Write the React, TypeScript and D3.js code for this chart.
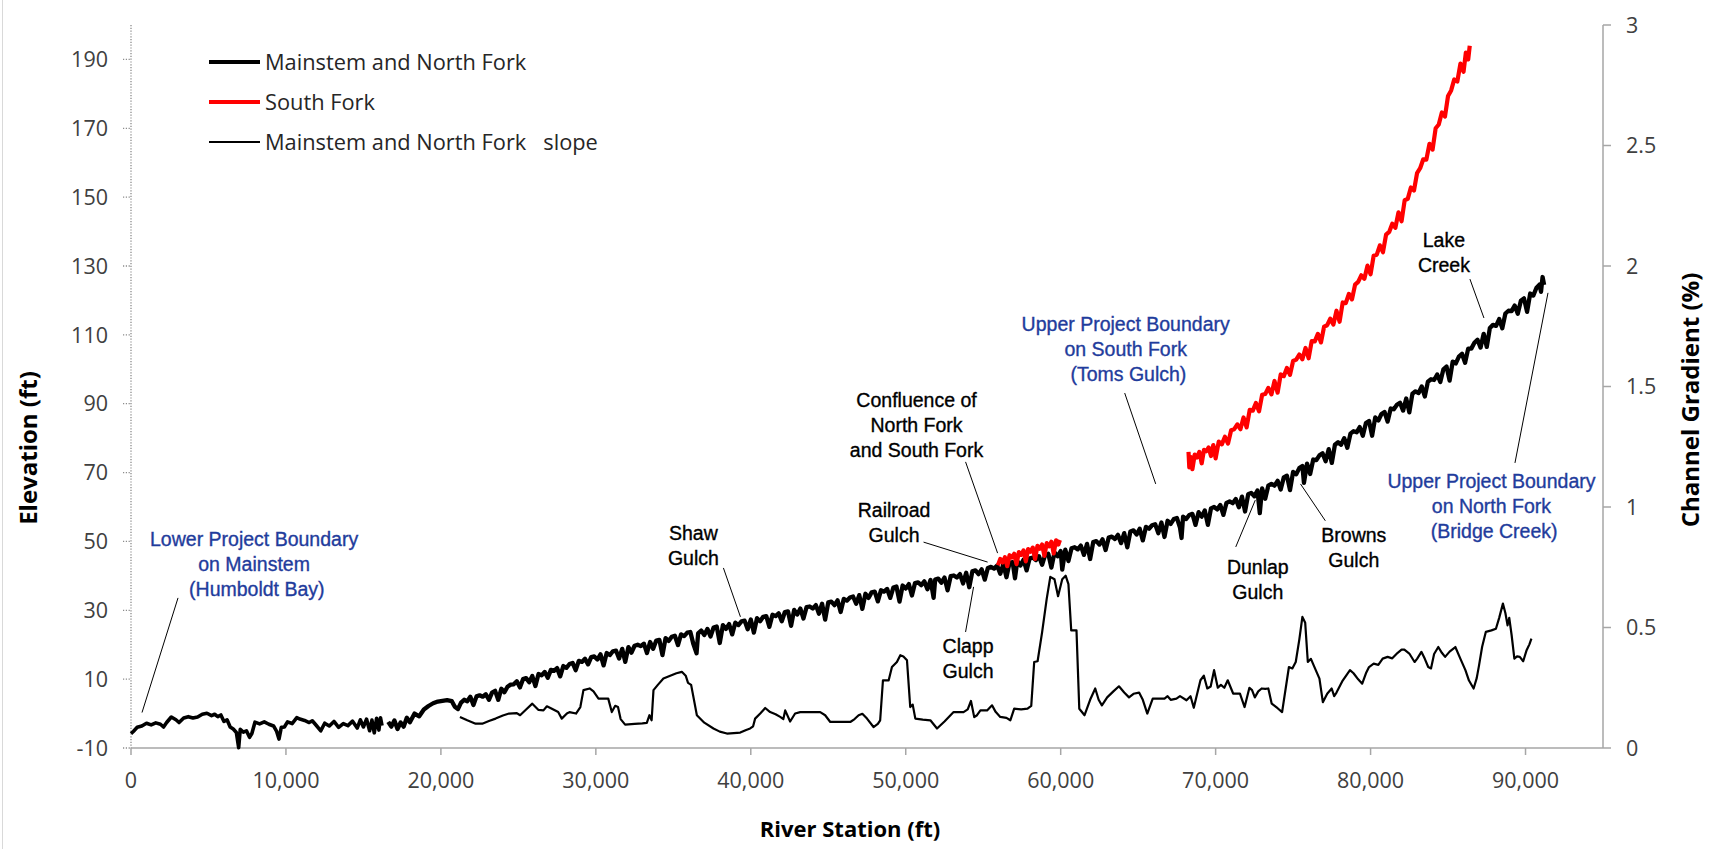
import React, { useEffect } from "react";
import * as d3 from "d3";

// ---------------- DATA ----------------
const X_TICKS = [0, 10000, 20000, 30000, 40000, 50000, 60000, 70000, 80000, 90000];
const ELEV_TICKS = [-10, 10, 30, 50, 70, 90, 110, 130, 150, 170, 190];
const GRAD_TICKS = [0, 0.5, 1, 1.5, 2, 2.5, 3];
const GRAD_LABELS = ["0", "0.5", "1", "1.5", "2", "2.5", "3"];

const LEGEND_LABELS = ["Mainstem and North Fork", "South Fork", "Mainstem and North Fork   slope"];

// Mainstem and North Fork elevation (station ft, elevation ft), before the data gap
const MAIN_A: [number, number][] = [
  [0,-5.8],[150,-5.2],[400,-4.0],[700,-3.6],[1000,-2.8],[1300,-3.3],[1600,-2.7],[1900,-3.1],[2100,-3.9],[2300,-2.6],
  [2600,-1.0],[2900,-1.8],[3100,-2.6],[3400,-1.3],[3700,-0.9],[4000,-1.3],[4300,-1.0],[4600,-0.2],[4900,0.1],[5200,-0.6],
  [5400,-0.2],[5600,-0.9],[5800,-0.4],[6000,-2.3],[6200,-1.8],[6400,-3.9],[6600,-4.5],[6800,-5.5],[6950,-9.9],[7050,-4.6],
  [7250,-5.4],[7450,-5.0],[7650,-6.9],[7800,-5.8],[8000,-2.5],[8300,-3.0],[8600,-2.4],[8900,-3.1],[9200,-3.6],[9400,-5.2],
  [9550,-7.4],[9700,-4.0],[9900,-3.9],[10100,-2.4],[10400,-2.9],[10700,-1.2],[10900,-1.6],[11200,-2.0],[11500,-2.6],[11700,-2.1],
  [11950,-3.4],[12250,-5.0],[12500,-2.8],[12800,-3.6],[13100,-2.3],[13400,-4.0],[13700,-2.9],[14000,-3.5],[14300,-2.2],[14600,-4.2],
  [14800,-1.8],[15000,-3.9],[15200,-1.6],[15400,-5.0],[15550,-1.9],[15700,-5.6],[15850,-1.4],[16000,-4.8],[16100,-1.2],[16200,-3.5]
];

// Mainstem and North Fork elevation after the data gap
const MAIN_B: [number, number][] = [
  [16600,-2.4],[16800,-3.8],[17000,-2.0],[17200,-4.5],[17400,-2.6],[17600,-3.8],[17800,-1.2],[18000,-2.5],[18300,0.0],[18600,-0.8],
  [18900,1.2],[19200,2.2],[19500,3.0],[19800,3.5],[20100,3.7],[20400,3.9],[20700,3.6],[20900,2.0],[21100,1.3],[21300,3.2],
  [21500,4.0],[21700,3.6],[21900,4.9],[22100,2.5],[22300,5.0],[22500,5.3],[22700,4.9],[22900,5.6],[23100,4.0],[23300,6.1],
  [23500,6.6],[23700,4.0],[23900,7.2],[24100,6.2],[24300,7.8],[24500,8.4],[24700,8.5],[24900,9.4],[25100,7.6],[25300,10.0],
  [25500,10.3],[25700,9.1],[25900,10.9],[26100,8.0],[26300,11.5],[26500,11.1],[26700,12.1],[26900,10.4],[27100,12.7],[27300,12.4],
  [27500,13.2],[27700,10.8],[27900,13.8],[28100,13.3],[28300,14.4],[28500,14.7],[28700,12.6],[28900,15.3],[29100,15.0],[29300,15.9],
  [29500,14.3],[29700,16.4],[29900,16.6],[30100,15.7],[30300,17.2],[30500,14.0],[30700,17.6],[30900,17.0],[31100,18.1],[31300,18.3],
  [31500,16.0],[31700,18.8],[31900,15.0],[32100,19.3],[32300,17.7],[32500,19.7],[32700,20.0],[32900,19.6],[33100,20.3],[33300,17.6],
  [33500,20.8],[33700,18.8],[33900,21.2],[34100,21.4],[34300,17.0],[34500,21.9],[34700,21.1],[34900,22.3],[35100,22.6],[35300,19.9],
  [35500,23.0],[35700,22.5],[35900,23.5],[36100,23.7],[36300,20.1],[36500,17.5],[36600,23.3],[36800,24.1],[37000,22.8],[37200,24.6],
  [37400,22.4],[37600,25.0],[37800,25.3],[38000,20.5],[38200,25.7],[38400,24.6],[38600,26.0],[38800,23.0],[39000,26.4],[39200,25.7],
  [39400,26.8],[39600,27.0],[39800,24.5],[40000,27.3],[40200,23.5],[40400,27.7],[40600,26.8],[40800,28.1],[41000,28.3],[41200,25.2],
  [41400,28.7],[41600,28.3],[41800,29.1],[42000,26.8],[42200,29.5],[42400,29.7],[42600,25.5],[42800,30.1],[43000,28.8],[43200,30.5],
  [43400,27.6],[43600,30.9],[43800,31.1],[44000,30.5],[44200,31.5],[44400,29.0],[44600,31.9],[44800,27.3],[45000,32.3],[45200,32.5],
  [45400,31.5],[45600,32.9],[45800,29.5],[46000,33.3],[46200,32.8],[46400,33.7],[46600,34.0],[46800,31.9],[47000,34.4],[47200,30.4],
  [47400,34.8],[47600,33.6],[47800,35.2],[48000,35.4],[48200,32.6],[48400,35.8],[48600,35.4],[48800,36.2],[49000,33.6],[49200,36.6],
  [49400,36.9],[49600,32.5],[49800,37.2],[50000,36.3],[50200,37.6],[50400,34.3],[50600,37.9],[50800,38.1],[51000,37.3],[51200,38.4],
  [51400,36.1],[51600,38.8],[51800,33.6],[51900,38.9],[52100,39.2],[52300,38.0],[52500,39.5],[52700,35.8],[52900,39.9],[53100,40.1],
  [53300,39.5],[53500,40.5],[53700,37.8],[53900,40.9],[54100,36.7],[54300,41.3],[54500,41.6],[54700,40.5],[54900,41.9],[55100,38.9],
  [55300,42.3],[55500,42.6],[55700,42.1],[55900,43.0],[56100,40.6],[56300,43.4],[56500,39.6],[56700,43.8],[56900,44.0],[57050,39.3],
  [57200,44.3],[57400,43.0],[57600,44.7],[57800,41.6],[58000,45.1],[58200,45.3],[58400,44.6],[58600,45.7],[58800,43.2],[59000,46.1],
  [59200,46.4],[59400,42.4],[59600,46.8],[59800,45.7],[60000,47.2],[60100,41.8],[60300,47.6],[60500,44.3],[60700,48.0],[60900,48.3],
  [61100,47.7],[61300,48.8],[61500,46.1],[61700,49.3],[61900,44.9],[62100,49.8],[62300,50.1],[62500,49.1],[62700,50.6],[62900,47.5],
  [63100,51.1],[63300,51.4],[63500,50.7],[63700,51.9],[63900,49.5],[64100,52.4],[64300,48.3],[64500,52.9],[64700,53.2],[64900,52.0],
  [65100,53.7],[65300,50.3],[65500,54.2],[65700,53.7],[65900,54.7],[66100,55.0],[66300,52.4],[66500,55.5],[66700,51.3],[66900,56.0],
  [67100,55.1],[67300,56.5],[67500,56.8],[67700,54.0],[67800,51.0],[67900,57.2],[68100,56.5],[68300,57.7],[68500,58.0],[68700,54.8],
  [68900,58.5],[69100,57.2],[69300,59.0],[69500,54.8],[69700,59.6],[69900,60.0],[70100,59.3],[70300,60.6],[70500,57.7],[70700,61.2],
  [70900,61.6],[71100,61.1],[71300,62.3],[71500,59.9],[71700,63.0],[71900,58.7],[72100,63.7],[72300,64.1],[72500,63.1],[72700,64.8],
  [72850,58.2],[73000,65.4],[73200,62.4],[73400,66.2],[73600,66.7],[73800,66.2],[74000,67.6],[74200,65.1],[74400,68.6],[74600,69.1],
  [74800,64.9],[75000,70.2],[75200,69.5],[75400,71.3],[75600,71.9],[75700,67.0],[75900,72.6],[76100,69.6],[76300,73.8],[76500,73.6],
  [76700,75.0],[76900,75.6],[77100,73.3],[77300,76.8],[77500,72.8],[77700,78.1],[77900,78.8],[78100,78.1],[78300,80.0],[78500,77.2],
  [78700,81.3],[78900,82.0],[79100,81.7],[79300,83.2],[79500,80.7],[79700,84.4],[79900,85.0],[80100,80.7],[80300,86.0],[80500,85.1],
  [80700,87.0],[80900,87.6],[81100,84.8],[81300,88.6],[81500,88.4],[81700,89.7],[81900,90.3],[82100,88.0],[82300,91.5],[82500,87.5],
  [82700,92.9],[82900,93.6],[83100,93.1],[83300,95.0],[83500,92.1],[83700,96.4],[83900,97.1],[84100,96.9],[84300,98.5],[84500,96.3],
  [84700,100.0],[84900,100.8],[85100,96.7],[85300,102.2],[85500,101.7],[85700,103.7],[85900,104.5],[86100,101.9],[86300,106.0],[86500,106.0],
  [86700,107.7],[86900,108.6],[87100,106.3],[87300,110.3],[87500,106.5],[87700,112.0],[87900,112.9],[88100,112.6],[88300,114.6],[88500,111.9],
  [88700,116.2],[88900,117.0],[89100,116.9],[89300,118.5],[89500,116.1],[89700,119.9],[89900,120.6],[90100,116.7],[90300,122.0],[90500,121.4],
  [90700,123.6],[90900,124.6],[91000,122.5],[91100,126.8],[91200,124.5]
];

// South Fork elevation, reach near the confluence
const SOUTH_A: [number, number][] = [
  [55950,43.1],[56100,44.9],[56250,43.9],[56400,45.4],[56550,42.8],[56700,46.0],[56850,45.3],[57000,46.4],[57150,43.4],[57300,46.9],
  [57450,46.1],[57600,47.4],[57750,44.2],[57900,47.8],[58050,47.0],[58200,48.2],[58350,44.9],[58500,48.7],[58650,47.9],[58800,49.1],
  [58950,45.8],[59100,49.5],[59250,48.6],[59400,49.9],[59550,46.5],[59700,50.3],[59850,49.1],[59950,50.4]
];

// South Fork elevation, upper reach
const SOUTH_B: [number, number][] = [
  [68250,76.0],[68300,71.5],[68400,74.5],[68500,71.0],[68650,75.2],[68800,74.4],[68950,76.0],[69100,72.7],[69250,76.6],[69400,76.2],
  [69550,77.3],[69700,74.8],[69850,78.0],[70000,74.1],[70200,79.0],[70400,78.2],[70600,80.4],[70800,78.4],[71000,82.3],[71200,82.6],
  [71400,84.0],[71600,82.6],[71800,86.0],[72000,83.1],[72200,88.2],[72400,88.0],[72600,90.2],[72800,87.8],[73000,92.6],[73200,92.8],
  [73400,94.6],[73600,92.7],[73800,96.6],[74000,93.2],[74200,98.5],[74400,98.0],[74600,100.4],[74800,98.4],[75000,102.4],[75200,102.8],
  [75400,104.3],[75600,102.9],[75800,106.2],[76000,103.2],[76200,108.2],[76400,108.1],[76600,110.3],[76800,107.8],[77000,112.4],[77200,112.8],
  [77400,114.7],[77600,113.0],[77800,117.0],[78000,113.8],[78200,119.4],[78400,119.2],[78600,121.9],[78800,120.3],[79000,124.6],[79200,125.4],
  [79400,127.3],[79600,126.3],[79800,130.1],[80000,127.6],[80200,133.0],[80400,133.3],[80600,136.0],[80800,134.0],[81000,139.1],[81200,139.9],
  [81400,142.3],[81600,141.1],[81800,145.6],[82000,143.0],[82200,149.1],[82400,149.5],[82600,152.8],[82800,151.9],[83000,157.0],[83200,158.4],
  [83400,161.0],[83600,160.9],[83800,165.5],[84000,163.8],[84200,170.0],[84400,171.1],[84600,174.6],[84800,173.4],[85000,179.4],[85200,181.0],
  [85400,184.2],[85600,183.6],[85800,188.8],[86000,186.4],[86150,192.0],[86300,190.0],[86400,194.0]
];

// Mainstem and North Fork channel gradient (station ft, percent)
const SLOPE: [number, number][] = [
  [21230,0.129],[21700,0.115],[22240,0.101],[22670,0.101],[23100,0.112],[23530,0.122],[24000,0.135],[24400,0.143],[24900,0.145],[25110,0.136],
  [25500,0.160],[25900,0.184],[26300,0.158],[26620,0.156],[26840,0.173],[27100,0.165],[27570,0.149],[27800,0.122],[28130,0.143],[28300,0.149],
  [28720,0.143],[29000,0.170],[29200,0.240],[29600,0.247],[29850,0.235],[30170,0.205],[30500,0.205],[30800,0.205],[31030,0.149],[31250,0.175],
  [31430,0.170],[31600,0.120],[31890,0.097],[32500,0.100],[33000,0.102],[33290,0.104],[33460,0.136],[33600,0.115],[33720,0.240],[34000,0.262],
  [34360,0.288],[34800,0.300],[35200,0.310],[35550,0.316],[35800,0.300],[35950,0.270],[36150,0.262],[36520,0.136],[37000,0.105],[37590,0.081],
  [38000,0.068],[38460,0.060],[38900,0.062],[39320,0.064],[39700,0.075],[39960,0.081],[40150,0.090],[40280,0.122],[40610,0.143],[40930,0.166],
  [41250,0.149],[41600,0.140],[41900,0.129],[42100,0.120],[42220,0.156],[42540,0.110],[42860,0.143],[43190,0.149],[43800,0.149],[44480,0.149],
  [44800,0.136],[45130,0.108],[45800,0.108],[46420,0.108],[46700,0.120],[46960,0.136],[47200,0.142],[47500,0.122],[47920,0.087],[48200,0.100],
  [48350,0.115],[48530,0.281],[48900,0.281],[49110,0.336],[49430,0.357],[49650,0.385],[49850,0.380],[50080,0.364],[50290,0.170],[50450,0.180],
  [50620,0.122],[51100,0.118],[51590,0.115],[52020,0.081],[52500,0.110],[53090,0.149],[53730,0.149],[54000,0.160],[54210,0.195],[54420,0.128],
  [54600,0.136],[54820,0.156],[55250,0.156],[55570,0.177],[55800,0.150],[56100,0.129],[56500,0.125],[56750,0.115],[57000,0.163],[57450,0.160],
  [57860,0.163],[58100,0.175],[58290,0.357],[58510,0.360],[58800,0.480],[59100,0.620],[59330,0.710],[59600,0.700],[59830,0.630],[60100,0.700],
  [60320,0.715],[60500,0.680],[60680,0.488],[61020,0.488],[61200,0.163],[61540,0.136],[61900,0.200],[62230,0.247],[62450,0.200],[62660,0.177],
  [63000,0.210],[63400,0.235],[63760,0.256],[64100,0.230],[64410,0.210],[64700,0.225],[65060,0.230],[65300,0.200],[65590,0.143],[65940,0.205],
  [66700,0.205],[66900,0.215],[67100,0.200],[67470,0.205],[67700,0.215],[68120,0.198],[68380,0.215],[68590,0.167],[69020,0.281],[69240,0.300],
  [69460,0.247],[69680,0.255],[69900,0.323],[70140,0.250],[70340,0.262],[70560,0.250],[70780,0.281],[71130,0.226],[71570,0.226],[71870,0.170],
  [72180,0.250],[72350,0.240],[72530,0.210],[72750,0.235],[72970,0.247],[73200,0.245],[73400,0.247],[73620,0.184],[74000,0.165],[74290,0.149],
  [74730,0.336],[74950,0.330],[75170,0.357],[75400,0.450],[75600,0.544],[75780,0.520],[75950,0.357],[76150,0.370],[76350,0.340],[76700,0.288],
  [76920,0.190],[77200,0.225],[77490,0.247],[77650,0.215],[77800,0.230],[78200,0.280],[78670,0.323],[78900,0.310],[79200,0.285],[79460,0.267],
  [79700,0.310],[79900,0.336],[80200,0.350],[80500,0.345],[80780,0.371],[81100,0.378],[81400,0.372],[81750,0.395],[82000,0.408],[82180,0.408],
  [82500,0.392],[82840,0.357],[83000,0.370],[83280,0.399],[83500,0.370],[83720,0.336],[83900,0.330],[84100,0.390],[84370,0.419],[84600,0.395],
  [84810,0.378],[85100,0.400],[85470,0.419],[85800,0.370],[86120,0.323],[86350,0.280],[86650,0.247],[86850,0.290],[87000,0.343],[87200,0.420],
  [87440,0.482],[87800,0.488],[88090,0.495],[88300,0.540],[88540,0.599],[88700,0.560],[88840,0.509],[88950,0.540],[89100,0.470],[89280,0.371],
  [89450,0.380],[89630,0.378],[89850,0.360],[90070,0.406],[90250,0.430],[90380,0.454]
];

// Annotations: text anchor (station, elevation) and leader line ends (station, elevation)
type Note = { lines: string[]; kind: "boundary" | "tributary"; at: [number, number]; leader: [[number, number], [number, number]] };
const NOTES: Note[] = [
  { lines: ["Lower Project Boundary", "on Mainstem", " (Humboldt Bay)"], kind: "boundary", at: [7944, 48.7], leader: [[3035, 33.6], [710, 0.3]] },
  { lines: ["Shaw", "Gulch"], kind: "tributary", at: [36296, 50.4], leader: [[38233, 42.3], [39331, 28.1]] },
  { lines: ["Railroad", "Gulch"], kind: "tributary", at: [49244, 57.1], leader: [[51149, 49.8], [55283, 44.0]] },
  { lines: ["Clapp", "Gulch"], kind: "tributary", at: [54023, 17.6], leader: [[53862, 23.7], [54379, 36.8]] },
  { lines: ["Confluence of", "North Fork", "and South Fork"], kind: "tributary", at: [50697, 89.0], leader: [[53862, 73.1], [55929, 46.6]] },
  { lines: ["Upper Project Boundary", "on South Fork", " (Toms Gulch)"], kind: "boundary", at: [64195, 111.1], leader: [[64131, 93.1], [66133, 66.7]] },
  { lines: ["Dunlap", "Gulch"], kind: "tributary", at: [72720, 40.5], leader: [[71299, 48.4], [72559, 62.0]] },
  { lines: ["Browns", "Gulch"], kind: "tributary", at: [78920, 49.8], leader: [[77080, 56.0], [75478, 66.7]] },
  { lines: ["Lake", "Creek"], kind: "tributary", at: [84733, 135.5], leader: [[86412, 126.2], [87316, 114.9]] },
  { lines: ["Upper Project Boundary", "on North Fork", " (Bridge Creek)"], kind: "boundary", at: [87800, 65.5], leader: [[91450, 122.2], [89318, 72.8]] }
];

// ---------------- CHART ----------------
const W = 1715;
const H = 849;
const PLOT = { left: 131, right: 1603, top: 25, bottom: 748 };
const TICK_FONT = "'Open Sans', 'Noto Sans', sans-serif";
const NOTE_FONT = "'Liberation Sans', Arial, sans-serif";
const AXIS_GRAY = "#a6a6a6";
const TEXT_GRAY = "#404040";
const BLUE = "#1f3c9c";

export default function App() {
  useEffect(() => {
    document.body.style.margin = "0";
  }, []);

  const x = d3.scaleLinear().domain([0, 95000]).range([PLOT.left, PLOT.right]);
  const yL = d3.scaleLinear().domain([-10, 200]).range([PLOT.bottom, PLOT.top]);
  const yR = d3.scaleLinear().domain([0, 3]).range([PLOT.bottom, PLOT.top]);

  const elevLine = d3.line<[number, number]>().x((d) => x(d[0])).y((d) => yL(d[1]));
  const slopeLine = d3.line<[number, number]>().x((d) => x(d[0])).y((d) => yR(d[1]));
  const fmt = d3.format(",");

  const legendY = [62, 102, 142];
  const legendStyles = [
    { stroke: "#000", width: 3.8 },
    { stroke: "#ff0000", width: 3.8 },
    { stroke: "#000", width: 2.2 }
  ];

  return (
    <div style={{ position: "absolute", left: 0, top: 0, width: W, height: H, overflow: "hidden", background: "#fff" }}>
      <svg width={W} height={H} style={{ display: "block" }}>
        <rect x={0} y={0} width={W} height={H} fill="#fff" />
        <line x1={2.5} x2={2.5} y1={0} y2={H} stroke="#d9d9d9" strokeWidth={1} />

        {/* x axis */}
        <line x1={PLOT.left} x2={PLOT.right} y1={PLOT.bottom} y2={PLOT.bottom} stroke={AXIS_GRAY} strokeWidth={1.5} />
        {X_TICKS.map((t) => (
          <g key={"xt" + t}>
            <line x1={x(t)} x2={x(t)} y1={PLOT.bottom} y2={PLOT.bottom + 7} stroke={AXIS_GRAY} strokeWidth={1.5} />
            <text x={x(t)} y={788} textAnchor="middle" fontFamily={TICK_FONT} fontSize={21.5} fill={TEXT_GRAY}>
              {fmt(t)}
            </text>
          </g>
        ))}

        {/* left axis (dotted) */}
        <line x1={PLOT.left} x2={PLOT.left} y1={PLOT.top} y2={PLOT.bottom} stroke="#8c8c8c" strokeWidth={1.3} strokeDasharray="1.2 1.6" />
        {ELEV_TICKS.map((t) => (
          <g key={"yl" + t}>
            <line x1={PLOT.left - 8} x2={PLOT.left} y1={yL(t)} y2={yL(t)} stroke="#8c8c8c" strokeWidth={1.3} strokeDasharray="1.2 1.6" />
            <text x={108} y={yL(t)} dy="0.36em" textAnchor="end" fontFamily={TICK_FONT} fontSize={21.5} fill={TEXT_GRAY}>
              {t}
            </text>
          </g>
        ))}

        {/* right axis */}
        <line x1={PLOT.right} x2={PLOT.right} y1={PLOT.top} y2={PLOT.bottom} stroke={AXIS_GRAY} strokeWidth={1.5} />
        {GRAD_TICKS.map((t, i) => (
          <g key={"yr" + t}>
            <line x1={PLOT.right} x2={PLOT.right + 8} y1={yR(t)} y2={yR(t)} stroke={AXIS_GRAY} strokeWidth={1.5} />
            <text x={1626} y={yR(t)} dy="0.36em" textAnchor="start" fontFamily={TICK_FONT} fontSize={21.5} fill={TEXT_GRAY}>
              {GRAD_LABELS[i]}
            </text>
          </g>
        ))}

        {/* axis titles */}
        <text transform="translate(37,448) rotate(-90)" textAnchor="middle" fontFamily={TICK_FONT} fontWeight="bold" fontSize={24} fill="#000">
          Elevation (ft)
        </text>
        <text transform="translate(1699,400) rotate(-90)" textAnchor="middle" fontFamily={TICK_FONT} fontWeight="bold" fontSize={24} fill="#000">
          Channel Gradient (%)
        </text>
        <text x={850} y={837} textAnchor="middle" fontFamily={TICK_FONT} fontWeight="bold" fontSize={22} fill="#000">
          River Station (ft)
        </text>

        {/* series */}
        <path d={slopeLine(SLOPE) || ""} fill="none" stroke="#000" strokeWidth={2.2} strokeLinejoin="round" />
        <path d={elevLine(MAIN_A) || ""} fill="none" stroke="#000" strokeWidth={3.6} strokeLinejoin="round" />
        <path d={elevLine(MAIN_B) || ""} fill="none" stroke="#000" strokeWidth={4.3} strokeLinejoin="round" />
        <path d={elevLine(SOUTH_A) || ""} fill="none" stroke="#ff0000" strokeWidth={4.2} strokeLinejoin="round" />
        <path d={elevLine(SOUTH_B) || ""} fill="none" stroke="#ff0000" strokeWidth={4.2} strokeLinejoin="round" />

        {/* annotations */}
        {NOTES.map((n, i) => {
          const cx = x(n.at[0]);
          const cy = yL(n.at[1]);
          const col = n.kind === "boundary" ? BLUE : "#000";
          return (
            <g key={"note" + i}>
              <line
                x1={x(n.leader[0][0])}
                y1={yL(n.leader[0][1])}
                x2={x(n.leader[1][0])}
                y2={yL(n.leader[1][1])}
                stroke="#000"
                strokeWidth={1}
              />
              {n.lines.map((s, j) => (
                <text
                  key={j}
                  x={cx}
                  y={cy + j * 25}
                  textAnchor="middle"
                  fontFamily={NOTE_FONT}
                  fontSize={19.5}
                  fill={col}
                  stroke={col}
                  strokeWidth={0.35}
                  style={{ whiteSpace: "pre" }}
                >
                  {s}
                </text>
              ))}
            </g>
          );
        })}

        {/* legend */}
        {LEGEND_LABELS.map((lab, i) => (
          <g key={"lg" + i}>
            <line x1={209} x2={260} y1={legendY[i]} y2={legendY[i]} stroke={legendStyles[i].stroke} strokeWidth={legendStyles[i].width} />
            <text x={265} y={legendY[i]} dy="0.35em" fontFamily={TICK_FONT} fontSize={21.8} fill="#262626" style={{ whiteSpace: "pre" }}>
              {lab}
            </text>
          </g>
        ))}
      </svg>
    </div>
  );
}
